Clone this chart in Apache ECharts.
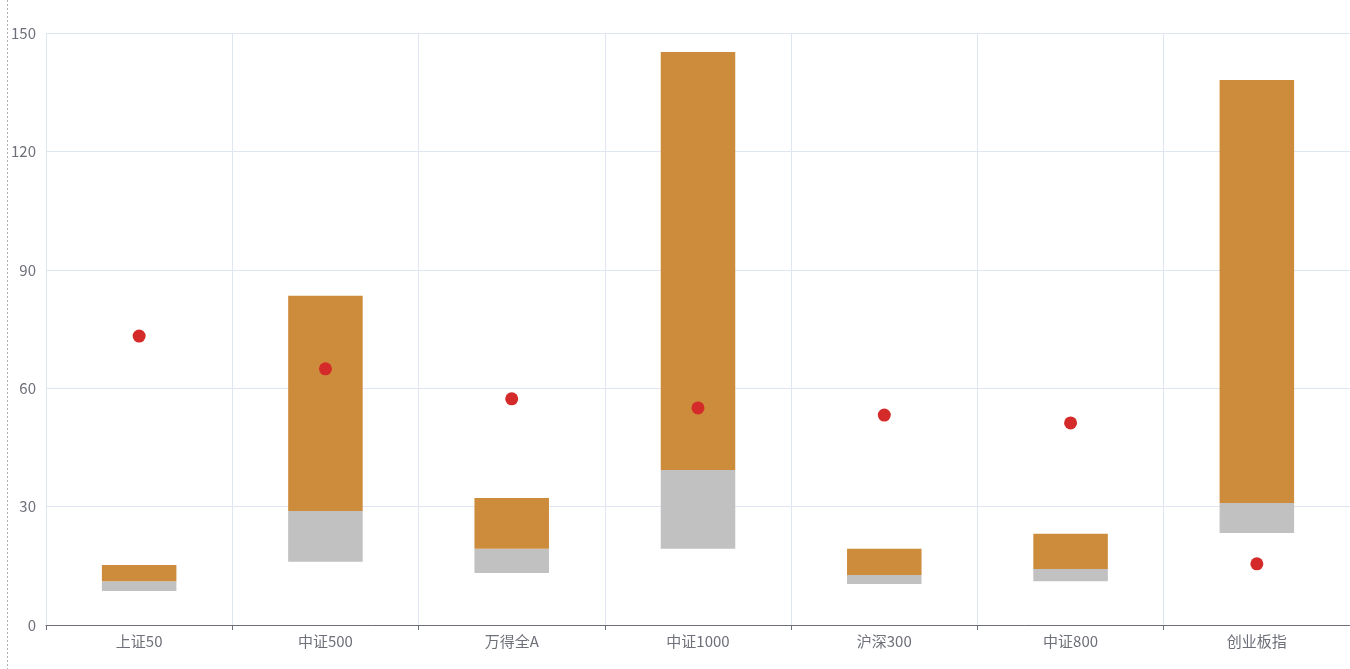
<!DOCTYPE html>
<html>
<head>
<meta charset="utf-8">
<script src="https://cdn.jsdelivr.net/npm/echarts@6/dist/echarts.min.js"></script>
<style>
html,body{margin:0;padding:0;background:#fff;}
#main{width:1350px;height:669px;}
</style>
</head>
<body>
<div id="main"></div>
<script>
var categories = ['上证50', '中证500', '万得全A', '中证1000', '沪深300', '中证800', '创业板指'];
// range bottom (grey start), grey top / orange start, orange top
var lowValues  = [8.6, 16.0, 13.2, 19.3, 10.4, 11.1, 23.3];
var midValues  = [11.1, 28.9, 19.3, 39.3, 12.7, 14.2, 30.9];
var highValues = [15.2, 83.4, 32.2, 145.2, 19.3, 23.1, 138.1];
var dotValues  = [73.2, 64.9, 57.3, 55.0, 53.2, 51.2, 15.5];
var yTicks = [0, 30, 60, 90, 120, 150];

var greyHeights = lowValues.map(function (v, i) { return +(midValues[i] - v).toFixed(2); });
var orangeHeights = midValues.map(function (v, i) { return +(highValues[i] - v).toFixed(2); });

var chart = echarts.init(document.getElementById('main'), null, {renderer: 'canvas'});
var font = 'Noto Sans CJK SC';
chart.setOption({
  animation: false,
  backgroundColor: '#fff',
  textStyle: {fontFamily: font},
  grid: {left: 46, right: -2, top: 33, bottom: 44},
  graphic: [{
    type: 'line',
    shape: {x1: 7.5, y1: 0, x2: 7.5, y2: 669},
    style: {stroke: '#b0b0b0', lineWidth: 1, lineDash: [2, 2]}
  }],
  xAxis: {
    type: 'category',
    data: categories,
    axisLine: {lineStyle: {color: '#6E7079', width: 1}},
    axisTick: {show: true, length: 5, lineStyle: {color: '#6E7079'}},
    axisLabel: {color: '#6E7079', fontSize: 15, margin: 9, fontFamily: font},
    splitLine: {show: true, lineStyle: {color: '#E0E6F1'}}
  },
  yAxis: {
    type: 'value',
    min: yTicks[0],
    max: yTicks[yTicks.length - 1],
    interval: 30,
    axisLine: {show: false},
    axisTick: {show: false},
    axisLabel: {color: '#6E7079', fontSize: 15, margin: 10, fontFamily: font},
    splitLine: {lineStyle: {color: '#E0E6F1'}}
  },
  series: [
    {
      type: 'bar', stack: 'r', barWidth: '40%',
      itemStyle: {color: 'transparent'},
      data: lowValues
    },
    {
      type: 'bar', stack: 'r', barWidth: '40%',
      itemStyle: {color: '#C1C1C1'},
      data: greyHeights
    },
    {
      type: 'bar', stack: 'r', barWidth: '40%',
      itemStyle: {color: '#CD8C3C'},
      data: orangeHeights
    },
    {
      type: 'scatter',
      symbolSize: 13,
      itemStyle: {color: '#D42A2A', opacity: 1},
      data: dotValues,
      z: 5
    }
  ]
});
</script>
</body>
</html>
